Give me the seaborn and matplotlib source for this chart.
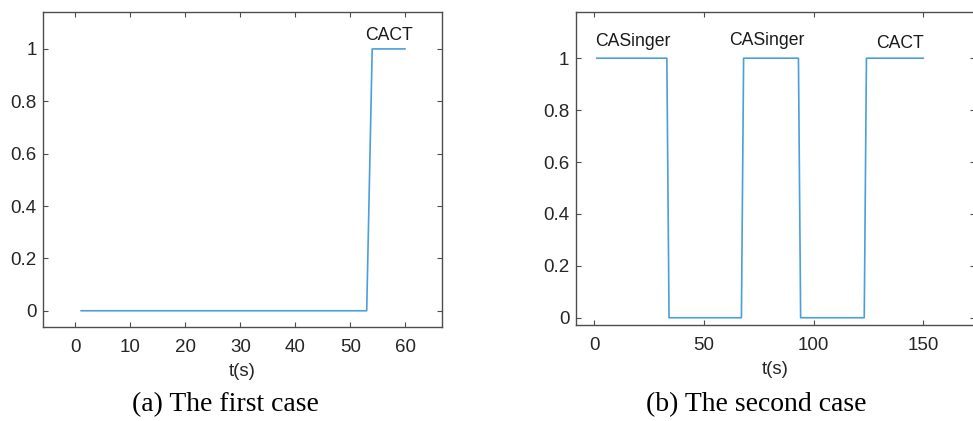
import numpy as np
import pandas as pd
import matplotlib
matplotlib.use("Agg")
import matplotlib.pyplot as plt
import seaborn as sns

# Case (a)
t_a = list(range(1, 61))
state_a = [0] * 53 + [1] * 7
labels_a = ["CACT"]
label_pos_a = [(57, 1.053)]

# Case (b)
t_b = list(range(1, 151))
state_b = [1] * 33 + [0] * 34 + [1] * 26 + [0] * 30 + [1] * 27
labels_b = ["CASinger", "CASinger", "CACT"]
label_pos_b = [(17.5, 1.065), (78.5, 1.068), (139.5, 1.055)]

captions = ["(a) The first case", "(b) The second case"]

sns.set_theme(style="white")
plt.rcParams['font.family'] = ['Liberation Sans', 'DejaVu Sans']

fig = plt.figure(figsize=(9.73, 4.21), dpi=100)
W, H = 973, 421
ax1 = fig.add_axes([43 / W, 1 - 327 / H, (442 - 43) / W, (327 - 12) / H])
ax2 = fig.add_axes([575.5 / W, 1 - 325 / H, (975 - 575.5) / W, (325 - 12) / H])

line_color = "#4a9fdc"
tick_color = "#262626"
spine_color = "#4d4d4d"

df_a = pd.DataFrame({"t": t_a, "v": state_a})
df_b = pd.DataFrame({"t": t_b, "v": state_b})
sns.lineplot(data=df_a, x="t", y="v", ax=ax1, color=line_color, linewidth=1.2)
sns.lineplot(data=df_b, x="t", y="v", ax=ax2, color=line_color, linewidth=1.2)

ax1.set_xlim(-5.9, 66.7)
ax1.set_ylim(-0.062, 1.141)
ax1.set_xticks([0, 10, 20, 30, 40, 50, 60])
ax1.set_yticks([0, 0.2, 0.4, 0.6, 0.8, 1])
ax1.set_yticklabels(["0", "0.2", "0.4", "0.6", "0.8", "1"])

ax2.set_xlim(-8.65, 173.5)
ax2.set_ylim(-0.028, 1.178)
ax2.set_xticks([0, 50, 100, 150])
ax2.set_yticks([0, 0.2, 0.4, 0.6, 0.8, 1])
ax2.set_yticklabels(["0", "0.2", "0.4", "0.6", "0.8", "1"])

for ax, labels, pos, cap in [(ax1, labels_a, label_pos_a, captions[0]),
                             (ax2, labels_b, label_pos_b, captions[1])]:
    ax.set_xlabel("t(s)", fontsize=13.5, color=tick_color, labelpad=5)
    ax.set_ylabel("")
    ax.tick_params(direction="in", length=3.5, width=0.8, colors=spine_color,
                   labelcolor=tick_color, labelsize=13.5, top=True, right=True,
                   bottom=True, left=True)
    ax.tick_params(axis="x", pad=9)
    ax.tick_params(axis="y", pad=4.5)
    for s in ax.spines.values():
        s.set_color(spine_color)
        s.set_linewidth(1.0)
        s.set_visible(True)
    for lab, (x, y) in zip(labels, pos):
        ax.text(x, y, lab, ha="center", va="center", fontsize=12.7, color="#1a1a1a")

fig.text(225 / W, 1 - 405 / H, captions[0], ha="center", va="center",
         fontsize=20, family=["Liberation Serif", "DejaVu Serif"], color="black")
fig.text(756 / W, 1 - 405 / H, captions[1], ha="center", va="center",
         fontsize=20, family=["Liberation Serif", "DejaVu Serif"], color="black")

fig.savefig("out.png", dpi=100)
